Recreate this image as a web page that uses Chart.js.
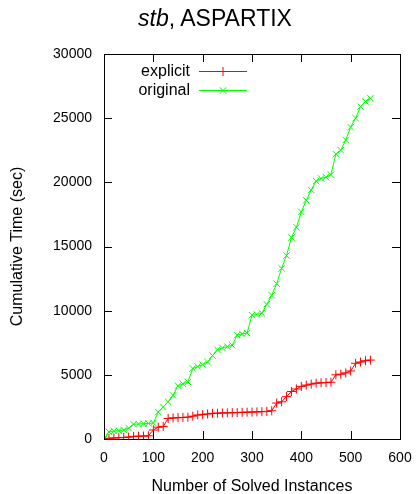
<!DOCTYPE html>
<html>
<head>
<meta charset="utf-8">
<script src="https://cdn.jsdelivr.net/npm/chart.js"></script>
<style>
  html, body { margin: 0; padding: 0; background: #fff; }
  #wrap { position: relative; width: 416px; height: 494px; }
  #title {
    position: absolute; left: 0; top: 5px; width: 430px; text-align: center;
    font-family: "Liberation Sans", Arial, sans-serif; font-size: 23px; color: #000;
  }
  canvas { position: absolute; left: 0; top: 0; }
</style>
</head>
<body>
<div id="wrap">
  <canvas id="chart" width="416" height="494"></canvas>
  <div id="title"><i>stb</i>, ASPARTIX</div>
</div>
<script>
// -------------------------------
// DATA
// -------------------------------

const instances = [0, 10, 20, 30, 40, 50, 60, 70, 80, 90, 100, 110, 120, 130, 140, 150, 160, 170, 180, 190,
  200, 210, 220, 230, 240, 250, 260, 270, 280, 290, 300, 310, 320, 330, 340, 350, 360, 370, 380, 390,
  400, 410, 420, 430, 440, 450, 460, 470, 480, 490, 500, 510, 520, 530, 540];

// cumulative time (sec), "explicit"
const explicitTimes = [0, 50, 80, 100, 120, 150, 200, 220, 230, 250, 700, 920, 980, 1600, 1640, 1660, 1680, 1700, 1780, 1870,
  1900, 1950, 2000, 2010, 2030, 2040, 2050, 2060, 2080, 2090, 2100, 2110, 2130, 2150, 2200, 2800, 2900, 3300, 3700, 3900,
  4100, 4200, 4280, 4350, 4380, 4400, 4420, 5000, 5050, 5150, 5300, 5900, 6000, 6100, 6150];

// cumulative time (sec), "original"
const originalTimes = [0, 550, 620, 650, 700, 850, 1150, 1170, 1190, 1210, 1250, 2100, 2500, 2900, 3400, 4150, 4300, 4450, 5500, 5650,
  5800, 6000, 6500, 6950, 7100, 7200, 7300, 8100, 8200, 8250, 9650, 9700, 9800, 10500, 11200, 12100, 13300, 14300, 15700, 16500,
  17700, 18600, 19400, 20100, 20300, 20400, 20600, 22200, 22500, 23300, 24300, 25000, 25900, 26300, 26550];

const xTicks = [0, 100, 200, 300, 400, 500, 600];
const yTicks = [0, 5000, 10000, 15000, 20000, 25000, 30000];

const seriesNames = ["explicit", "original"];

// -------------------------------
// helpers
// -------------------------------

function toPoints(values) {
  return instances.map((n, i) => ({ x: n, y: values[i] }));
}

const FONT = "'Liberation Sans', Arial, sans-serif";

// box + inward ticks on all four sides, gnuplot style
const frameTicks = {
  id: "frameTicks",
  afterDatasetsDraw(chart) {
    const { ctx, chartArea: a, scales } = chart;
    const len = 8;
    ctx.save();
    ctx.strokeStyle = "#000";
    ctx.lineWidth = 1;
    ctx.beginPath();
    xTicks.forEach(v => {
      const px = Math.round(scales.x.getPixelForValue(v)) + 0.5;
      ctx.moveTo(px, a.bottom); ctx.lineTo(px, a.bottom - len);
      ctx.moveTo(px, a.top); ctx.lineTo(px, a.top + len);
    });
    yTicks.forEach(v => {
      const py = Math.round(scales.y.getPixelForValue(v)) + 0.5;
      ctx.moveTo(a.left, py); ctx.lineTo(a.left + len, py);
      ctx.moveTo(a.right, py); ctx.lineTo(a.right - len, py);
    });
    ctx.stroke();
    ctx.strokeRect(Math.round(a.left) + 0.5, Math.round(a.top) + 0.5,
      Math.round(a.right - a.left), Math.round(a.bottom - a.top));
    ctx.restore();
  }
};

// legend inside top-left: right-aligned text, line sample with marker
const insideLegend = {
  id: "insideLegend",
  afterDraw(chart) {
    const { ctx } = chart;
    ctx.save();
    ctx.font = "16px " + FONT;
    ctx.textAlign = "right";
    ctx.textBaseline = "middle";
    chart.data.datasets.forEach((ds, i) => {
      const y = Math.round(71 + i * 18.7) + 0.5;
      ctx.fillStyle = "#000";
      ctx.fillText(ds.label, 190, y);
      ctx.strokeStyle = ds.borderColor;
      ctx.fillStyle = ds.borderColor;
      ctx.lineWidth = 1;
      ctx.beginPath();
      ctx.moveTo(199, y);
      ctx.lineTo(247, y);
      ctx.stroke();
      Chart.helpers.drawPoint(ctx, {
        pointStyle: ds.pointStyle, radius: ds.pointRadius, borderWidth: 1
      }, 223, y);
    });
    ctx.restore();
  }
};

// -------------------------------
// CHART
// -------------------------------

new Chart(document.getElementById("chart"), {
  type: "scatter",
  data: {
    datasets: [
      {
        label: seriesNames[0],
        data: toPoints(explicitTimes),
        showLine: true,
        borderColor: "#ff0000",
        backgroundColor: "#ff0000",
        borderWidth: 1,
        pointStyle: "cross",
        pointRadius: 4.5,
        pointBorderWidth: 1,
        pointBorderColor: "#ff0000"
      },
      {
        label: seriesNames[1],
        data: toPoints(originalTimes),
        showLine: true,
        borderColor: "#00ff00",
        backgroundColor: "#00ff00",
        borderWidth: 1,
        pointStyle: "crossRot",
        pointRadius: 4.5,
        pointBorderWidth: 1,
        pointBorderColor: "#00ff00"
      }
    ]
  },
  options: {
    responsive: false,
    animation: false,
    devicePixelRatio: 1,
    layout: { padding: { top: 54, right: 16, left: 0, bottom: 0 } },
    plugins: {
      legend: { display: false },
      tooltip: { enabled: false }
    },
    scales: {
      x: {
        type: "linear",
        min: 0, max: 600,
        afterBuildTicks: s => { s.ticks = xTicks.map(v => ({ value: v })); },
        afterFit: s => { s.height = 55; s.paddingLeft = 0; s.paddingRight = 0; },
        grid: { display: false, drawTicks: false },
        border: { display: false },
        ticks: {
          color: "#000", font: { family: FONT, size: 14 }, padding: 11, maxRotation: 0,
          callback: v => String(v)
        },
        title: {
          display: true, text: "Number of Solved Instances", color: "#000",
          font: { family: FONT, size: 16, lineHeight: 1 }, padding: { top: 0, bottom: -1 }
        }
      },
      y: {
        type: "linear",
        min: 0, max: 30000,
        afterBuildTicks: s => { s.ticks = yTicks.map(v => ({ value: v })); },
        afterFit: s => { s.width = 104; s.paddingTop = 0; s.paddingBottom = 0; },
        grid: { display: false, drawTicks: false },
        border: { display: false },
        ticks: {
          color: "#000", font: { family: FONT, size: 14 }, padding: 12,
          callback: v => String(v)
        },
        title: {
          display: true, text: "Cumulative Time (sec)", color: "#000",
          font: { family: FONT, size: 16, lineHeight: 1 }, padding: { top: 10, bottom: 0 }
        }
      }
    }
  },
  plugins: [frameTicks, insideLegend]
});
</script>
</body>
</html>
